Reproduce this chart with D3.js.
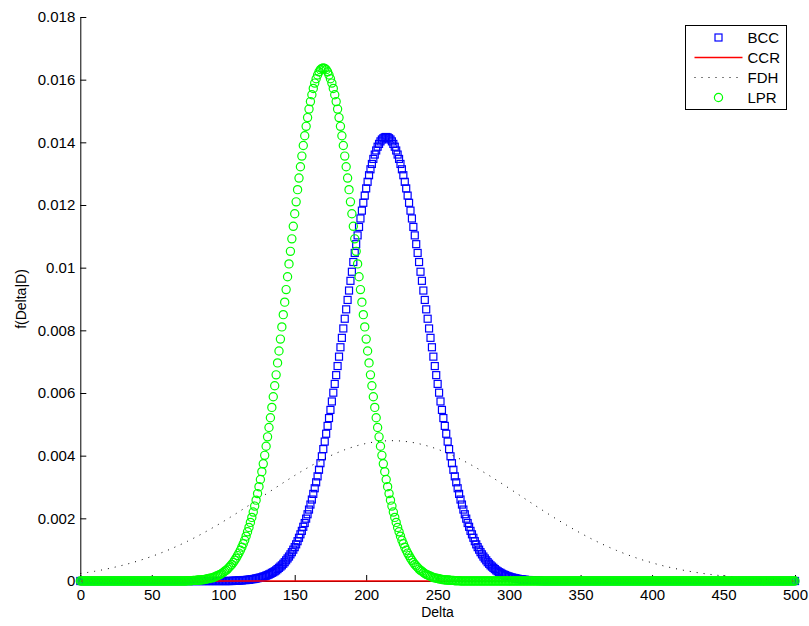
<!DOCTYPE html>
<html>
<head>
<meta charset="utf-8">
<script src="https://d3js.org/d3.v7.min.js"></script>
<style>
  body { margin: 0; background: #fff; }
  text { font-family: "Liberation Sans", Arial, Helvetica, sans-serif; }
</style>
</head>
<body>
<div id="chart"></div>
<script>
// f(Delta|D) values, written in units of 1e-5, one per integer Delta from 0 to 500
var unit = 1e-5;
var delta = d3.range(0, 501);

var bccValues = [
  0,0,0,0,0,0,0,0,0,0, 0,0,0,0,0,0,0,0,0,0, 0,0,0,0,0,0,0,0,0,0, 0,0,0,0,0,0,0,0,0,0, 0,0,0,0,0,0,0,0,0,0,
  0,0,0,0,0,0,0,0,0,0, 0,0,0,0,0,0,0,0,0,0, 0,0,0,0,0,0,0,0,0,0, 0,0,0,0,0,0,0,0,0,0, 0,0,0,0,0,0,0,0,0,0,
  0,0,0,0,0,0,0,1,1,1,                                  // 100
  1,2,2,2,3,3,3,4,4,5,                                  // 110
  6,6,7,8,9,10,11,12,14,15,                             // 120
  17,19,21,23,26,28,31,34,38,42,                        // 130
  46,50,55,60,66,72,78,85,92,100,                       // 140
  108,117,127,138,149,160,173,185,199,213,              // 150
  228,244,260,278,296,315,334,355,376,398,              // 160
  421,445,470,495,520,546,573,601,629,657,              // 170
  686,716,746,776,806,837,867,897,927,958,              // 180
  987,1018,1047,1075,1103,1130,1157,1182,1207,1230,     // 190
  1253,1274,1295,1314,1331,1347,1361,1374,1386,1395,    // 200
  1403,1409,1413,1416,1417,1416,1413,1409,1403,1395,    // 210
  1386,1374,1361,1347,1331,1314,1295,1274,1253,1230,    // 220
  1207,1182,1157,1130,1103,1075,1047,1018,987,958,      // 230
  927,897,867,837,806,776,746,716,686,657,              // 240
  629,601,573,546,520,495,470,445,421,398,              // 250
  376,355,334,315,296,278,260,244,228,213,              // 260
  199,185,173,160,149,138,127,117,108,100,              // 270
  92,85,78,72,66,60,55,50,46,42,                        // 280
  38,34,31,28,26,23,21,19,17,15,                        // 290
  14,12,11,10,9,8,7,6,6,5,                              // 300
  4,4,3,3,3,2,2,2,1,1,                                  // 310
  1,1,0,0,0,0,0,0,0,0,                                  // 320
  0,0,0,0,0,0,0,0,0,0, 0,0,0,0,0,0,0,0,0,0, 0,0,0,0,0,0,0,0,0,0, 0,0,0,0,0,0,0,0,0,0, 0,0,0,0,0,0,0,0,0,0,
  0,0,0,0,0,0,0,0,0,0, 0,0,0,0,0,0,0,0,0,0, 0,0,0,0,0,0,0,0,0,0, 0,0,0,0,0,0,0,0,0,0, 0,0,0,0,0,0,0,0,0,0,
  0,0,0,0,0,0,0,0,0,0, 0,0,0,0,0,0,0,0,0,0, 0,0,0,0,0,0,0,0,0,0, 0,0,0,0,0,0,0,0,0,0, 0,0,0,0,0,0,0,0,0,0,
  0,0,0,0,0,0,0,0,0,0, 0,0,0,0,0,0,0,0,0,0,
  0
];

var lprValues = [
  0,0,0,0,0,0,0,0,0,0, 0,0,0,0,0,0,0,0,0,0, 0,0,0,0,0,0,0,0,0,0, 0,0,0,0,0,0,0,0,0,0, 0,0,0,0,0,0,0,0,0,0,
  0,0,0,0,0,0,0,0,0,0, 0,0,0,0,0,0,0,0,0,0,
  0,0,0,0,0,1,1,1,1,2,                                  // 70
  2,2,3,3,3,4,4,5,6,7,                                  // 80
  8,9,10,11,13,15,17,19,21,24,                          // 90
  27,31,34,38,43,48,53,59,66,73,                        // 100
  81,89,98,108,119,130,143,157,171,187,                 // 110
  203,220,239,258,279,301,324,349,374,401,              // 120
  430,460,490,521,554,588,623,658,696,734,              // 130
  772,811,850,890,930,971,1012,1052,1092,1132,          // 140
  1172,1210,1249,1286,1322,1356,1390,1421,1451,1479,    // 150
  1506,1530,1552,1572,1589,1603,1615,1625,1632,1636,    // 160
  1637,1636,1632,1625,1615,1603,1589,1572,1552,1530,    // 170
  1506,1479,1451,1421,1390,1356,1322,1286,1249,1210,    // 180
  1172,1132,1092,1052,1012,971,930,890,850,811,         // 190
  772,734,696,658,623,588,554,521,490,460,              // 200
  430,401,374,349,324,301,279,258,239,220,              // 210
  203,187,171,157,143,130,119,108,98,89,                // 220
  81,73,66,59,53,48,43,38,34,31,                        // 230
  27,24,21,19,17,15,13,11,10,9,                         // 240
  8,7,6,5,4,4,3,3,3,2,                                  // 250
  2,2,1,1,1,1,0,0,0,0,                                  // 260
  0,0,0,0,0,0,0,0,0,0, 0,0,0,0,0,0,0,0,0,0, 0,0,0,0,0,0,0,0,0,0, 0,0,0,0,0,0,0,0,0,0, 0,0,0,0,0,0,0,0,0,0,
  0,0,0,0,0,0,0,0,0,0, 0,0,0,0,0,0,0,0,0,0, 0,0,0,0,0,0,0,0,0,0, 0,0,0,0,0,0,0,0,0,0, 0,0,0,0,0,0,0,0,0,0,
  0,0,0,0,0,0,0,0,0,0, 0,0,0,0,0,0,0,0,0,0, 0,0,0,0,0,0,0,0,0,0, 0,0,0,0,0,0,0,0,0,0, 0,0,0,0,0,0,0,0,0,0,
  0,0,0,0,0,0,0,0,0,0, 0,0,0,0,0,0,0,0,0,0, 0,0,0,0,0,0,0,0,0,0, 0,0,0,0,0,0,0,0,0,0, 0,0,0,0,0,0,0,0,0,0,
  0,0,0,0,0,0,0,0,0,0, 0,0,0,0,0,0,0,0,0,0, 0,0,0,0,0,0,0,0,0,0,
  0
];

// CCR stays flat at zero across the whole range
var ccrDelta = [0, 500];
var ccrValues = [0, 0];

// FDH read every 5 units of Delta
var fdhDelta = d3.range(0, 501, 5);
var fdhValues = [
  23.8,27.2,31.0,35.2,39.8,45.0,50.6,56.7,63.4,70.6,
  78.5,86.9,95.9,105.6,115.9,126.8,138.3,150.3,163.0,176.1,
  189.7,203.7,218.1,232.7,247.6,262.7,277.7,292.8,307.7,322.4,
  336.8,350.7,364.0,376.7,388.6,399.7,409.8,418.9,426.8,433.6,
  439.1,443.3,446.2,447.7,447.9,446.6,444.0,440.1,434.8,428.3,
  420.6,411.7,401.8,390.9,379.1,366.6,353.4,339.6,325.3,310.7,
  295.8,280.8,265.7,250.6,235.7,221.0,206.5,192.4,178.7,165.5,
  152.8,140.6,129.0,118.0,107.6,97.8,88.7,80.1,72.1,64.8,
  58.0,51.7,46.0,40.8,36.1,31.8,27.9,24.5,21.4,18.6,
  16.2,14.0,12.1,10.4,8.9,7.6,6.5,5.5,4.7,3.9,
  3.3
];

var xTicks = [0, 50, 100, 150, 200, 250, 300, 350, 400, 450, 500];
var yTicks = [0, 0.002, 0.004, 0.006, 0.008, 0.01, 0.012, 0.014, 0.016, 0.018];
var yTickLabels = ["0", "0.002", "0.004", "0.006", "0.008", "0.01", "0.012", "0.014", "0.016", "0.018"];
var legendNames = ["BCC", "CCR", "FDH", "LPR"];

//dimensions and margins
var margin = {top: 17, right: 14, bottom: 45, left: 80},
    width = 809 - margin.left - margin.right,
    height = 626 - margin.top - margin.bottom;

var svg = d3.select("#chart").append("svg")
    .attr("width", 809)
    .attr("height", 626)
  .append("g")
    .attr("transform", "translate(" + margin.left + "," + margin.top + ")");

var x = d3.scaleLinear().domain([0, 500]).range([0.3, width]);
var y = d3.scaleLinear().domain([0, 0.018]).range([height, 0]);

//axes (drawn under the data, ticks pointing inward)
var xAxis = svg.append("g")
    .attr("transform", "translate(0," + height + ")")
    .call(d3.axisBottom(x).tickValues(xTicks).tickSize(-6).tickSizeOuter(0).tickPadding(8));
var yAxis = svg.append("g")
    .attr("transform", "translate(0.3,0)")
    .call(d3.axisLeft(y).tickValues(yTicks).tickSize(-6).tickSizeOuter(0).tickPadding(5)
      .tickFormat(function(d, i) { return yTickLabels[i]; }));
[xAxis, yAxis].forEach(function(a) {
  a.selectAll("text").attr("font-size", "15px").attr("fill", "#000")
    .attr("font-family", "Liberation Sans, Arial, sans-serif");
  a.selectAll("line, path").attr("stroke", "#000");
});

//axis labels
svg.append("text")
    .attr("x", width / 2)
    .attr("y", height + 36)
    .attr("text-anchor", "middle")
    .attr("font-size", "14px")
    .text("Delta");
svg.append("text")
    .attr("transform", "translate(" + (26 - margin.left) + "," + (height / 2) + ") rotate(-90)")
    .attr("text-anchor", "middle")
    .attr("font-size", "14px")
    .text("f(Delta|D)");

//BCC squares
svg.append("g")
  .selectAll("rect")
  .data(delta)
  .enter()
  .append("rect")
    .attr("x", function(d, i) { return x(d) - 3.5; })
    .attr("y", function(d, i) { return y(bccValues[i] * unit) - 3.5; })
    .attr("width", 7)
    .attr("height", 7)
    .attr("fill", "none")
    .attr("stroke", "#0000ff")
    .attr("stroke-width", 1.2);

//CCR line
var line = d3.line()
    .x(function(d) { return x(d[0]); })
    .y(function(d) { return y(d[1] * unit); });
svg.append("path")
    .datum(ccrDelta.map(function(d, i) { return [d, ccrValues[i]]; }))
    .attr("d", line)
    .attr("fill", "none")
    .attr("stroke", "#ff0000")
    .attr("stroke-width", 1.3);

//FDH dotted line
svg.append("path")
    .datum(fdhDelta.map(function(d, i) { return [d, fdhValues[i]]; }))
    .attr("d", line)
    .attr("fill", "none")
    .attr("stroke", "#000")
    .attr("stroke-width", 1)
    .attr("stroke-dasharray", "1,6");

//LPR circles
svg.append("g")
  .selectAll("circle")
  .data(delta)
  .enter()
  .append("circle")
    .attr("cx", function(d) { return x(d); })
    .attr("cy", function(d, i) { return y(lprValues[i] * unit); })
    .attr("r", 4.1)
    .attr("fill", "none")
    .attr("stroke", "#00ff00")
    .attr("stroke-width", 1.2);

//legend
var legend = svg.append("g")
    .attr("transform", "translate(" + (685.5 - margin.left) + "," + (25.5 - margin.top) + ")");
legend.append("rect")
    .attr("width", 101)
    .attr("height", 84)
    .attr("fill", "#fff")
    .attr("stroke", "#000");

var rows = legend.selectAll(".row")
  .data(legendNames)
  .enter()
  .append("g")
    .attr("transform", function(d, i) { return "translate(0," + (12 + i * 20) + ")"; });

rows.append("text")
    .attr("x", 62)
    .attr("dy", "0.36em")
    .attr("font-size", "15px")
    .text(function(d) { return d; });

rows.filter(function(d) { return d === "BCC"; }).append("rect")
    .attr("x", 33 - 3.5).attr("y", -3.5).attr("width", 7).attr("height", 7)
    .attr("fill", "none").attr("stroke", "#0000ff").attr("stroke-width", 1.2);
rows.filter(function(d) { return d === "CCR"; }).append("line")
    .attr("x1", 9).attr("x2", 57)
    .attr("stroke", "#ff0000").attr("stroke-width", 1.5);
rows.filter(function(d) { return d === "FDH"; }).append("line")
    .attr("x1", 9).attr("x2", 57)
    .attr("stroke", "#000").attr("stroke-dasharray", "1,6");
rows.filter(function(d) { return d === "LPR"; }).append("circle")
    .attr("cx", 33).attr("r", 4.1)
    .attr("fill", "none").attr("stroke", "#00ff00").attr("stroke-width", 1.2);
</script>
</body>
</html>
